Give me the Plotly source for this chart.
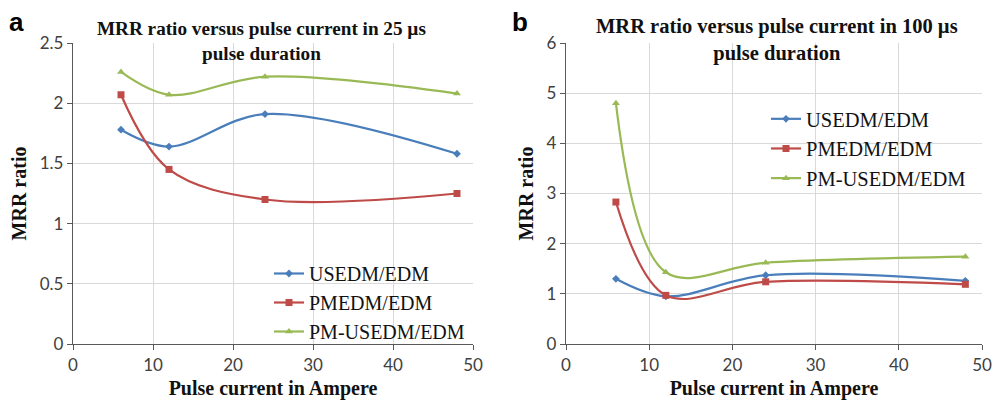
import plotly.graph_objects as go

current = [6, 12, 24, 48]

# Panel a: 25 µs pulse duration
a_usedm = [1.78, 1.64, 1.91, 1.58]
a_pmedm = [2.07, 1.45, 1.20, 1.25]
a_pmusedm = [2.26, 2.07, 2.22, 2.08]

# Panel b: 100 µs pulse duration
b_usedm = [1.30, 0.95, 1.37, 1.26]
b_pmedm = [2.83, 0.97, 1.24, 1.19]
b_pmusedm = [4.80, 1.43, 1.62, 1.74]

names = ["USEDM/EDM", "PMEDM/EDM", "PM-USEDM/EDM"]
colors = ["#4A7EBB", "#BE4B48", "#98B954"]
symbols = ["diamond", "square", "triangle-up"]
msizes = [6, 7, 7]

fig = go.Figure()
for vals, nm, c, s, ms in zip([a_usedm, a_pmedm, a_pmusedm], names, colors, symbols, msizes):
    fig.add_trace(go.Scatter(x=current, y=vals, name=nm, mode="lines+markers",
                             line=dict(color=c, width=2.2, shape="spline", smoothing=1),
                             marker=dict(symbol=s, size=ms, color=c),
                             xaxis="x", yaxis="y", legend="legend"))
for vals, nm, c, s, ms in zip([b_usedm, b_pmedm, b_pmusedm], names, colors, symbols, msizes):
    fig.add_trace(go.Scatter(x=current, y=vals, name=nm, mode="lines+markers",
                             line=dict(color=c, width=2.2, shape="spline", smoothing=1),
                             marker=dict(symbol=s, size=ms, color=c),
                             xaxis="x2", yaxis="y2", legend="legend2"))

# page body has an 8px margin; work in screen pixels
OFF = 8
W, H = 1005 - OFF, 400 - OFF


def px(x):
    return (x - OFF) / W


def py(y):
    return 1 - (y - OFF) / H


ydom = [py(344), py(43)]
axis_common = dict(showgrid=True, gridcolor="#D9D9D9", gridwidth=1,
                   showline=True, linecolor="#595959", linewidth=1.3,
                   ticks="outside", ticklen=5, tickcolor="#595959",
                   tickfont=dict(family="Lato, Liberation Sans", size=17, color="#404040"),
                   zeroline=False, mirror=False, automargin=False)
title_font = dict(family="Liberation Serif", size=20, color="#111111")

fig.update_layout(
    width=W, height=H,
    margin=dict(l=0, r=0, t=0, b=0),
    paper_bgcolor="white", plot_bgcolor="white",
    xaxis=dict(domain=[px(73), px(473)], range=[0, 50], dtick=10, anchor="y",
               title=dict(text="<b>Pulse current in Ampere</b>", font=title_font, standoff=7),
               **axis_common),
    yaxis=dict(domain=ydom, range=[0, 2.5], dtick=0.5, anchor="x",
               title=dict(text="<b>MRR ratio</b>", font=title_font, standoff=7),
               **axis_common),
    xaxis2=dict(domain=[px(566), px(982)], range=[0, 50], dtick=10, anchor="y2",
                title=dict(text="<b>Pulse current in Ampere</b>", font=title_font, standoff=7),
                **axis_common),
    yaxis2=dict(domain=ydom, range=[0, 6], dtick=1, anchor="x2",
                title=dict(text="<b>MRR ratio</b>", font=title_font, standoff=7),
                **axis_common),
    legend=dict(x=px(269), y=py(254), xanchor="left", yanchor="top",
                bgcolor="rgba(255,255,255,0)",
                font=dict(family="Liberation Serif", size=20, color="#111111"),
                itemwidth=30, tracegroupgap=0),
    legend2=dict(x=px(766), y=py(99), xanchor="left", yanchor="top",
                 bgcolor="rgba(255,255,255,0)",
                 font=dict(family="Liberation Serif", size=20.5, color="#111111"),
                 itemwidth=30, tracegroupgap=0),
    showlegend=True,
)

fig.add_annotation(text="<b>MRR ratio versus pulse current in 25 µs<br>pulse duration</b>",
                   x=px(261), y=py(16), xref="paper", yref="paper",
                   xanchor="center", yanchor="top", showarrow=False,
                   font=dict(family="Liberation Serif", size=19.2, color="#111111"))
fig.add_annotation(text="<b>MRR ratio versus pulse current in 100 µs<br>pulse duration</b>",
                   x=px(777), y=py(13), xref="paper", yref="paper",
                   xanchor="center", yanchor="top", showarrow=False,
                   font=dict(family="Liberation Serif", size=20.5, color="#111111"))
panel_font = dict(family="Liberation Sans", size=26, color="black")
fig.add_annotation(text="<b>a</b>", x=px(7), y=py(5), xref="paper", yref="paper",
                   xanchor="left", yanchor="top", showarrow=False, font=panel_font)
fig.add_annotation(text="<b>b</b>", x=px(510), y=py(5), xref="paper", yref="paper",
                   xanchor="left", yanchor="top", showarrow=False, font=panel_font)

fig.write_html("out.html")
